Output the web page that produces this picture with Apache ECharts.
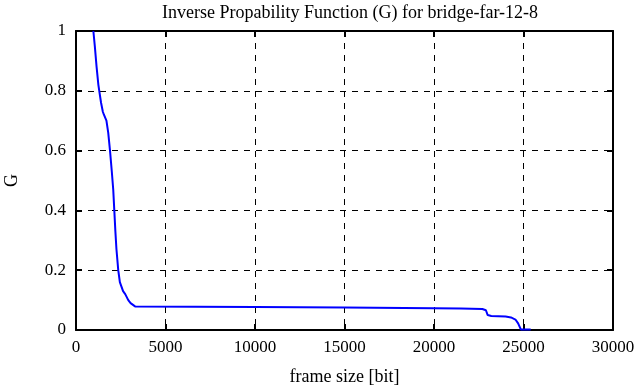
<!DOCTYPE html>
<html>
<head>
<meta charset="utf-8">
<script src="https://cdn.jsdelivr.net/npm/echarts@6/dist/echarts.min.js"></script>
<style>html,body{margin:0;padding:0;background:#fff;}#c{width:639px;height:387px;}</style>
</head>
<body>
<div id="c"></div>
<script>
const frameSizes = [970,1050,1150,1250,1300,1400,1500,1560,1700,1800,1900,2000,2080,2140,2200,2260,2360,2450,2510,2630,2750,2920,3050,3160,3300,10000,15000,20000,21500,22700,22900,23000,23200,24000,24300,24550,24700,24850,25400];
const gValues = [1.0,0.95,0.88,0.82,0.80,0.76,0.73,0.72,0.70,0.66,0.60,0.53,0.47,0.40,0.33,0.27,0.20,0.16,0.15,0.13,0.12,0.10,0.09,0.085,0.079,0.077,0.075,0.073,0.072,0.070,0.066,0.050,0.047,0.045,0.042,0.035,0.022,0.002,0.002];
const xTicks = [0,5000,10000,15000,20000,25000,30000];
const yTicks = [0,0.2,0.4,0.6,0.8,1];
const titleText = 'Inverse Propability Function (G) for bridge-far-12-8';

const font = 'Liberation Serif';
const chart = echarts.init(document.getElementById('c'));
const data = frameSizes.map((x,i)=>[x,gValues[i]]);
const axisCommon = {
  axisLine:{show:true,onZero:false,lineStyle:{color:'#000',width:2}},
  axisTick:{show:true,inside:true,length:6,lineStyle:{color:'#000',width:2}},
};
chart.setOption({
  animation:false,
  backgroundColor:'#fff',
  title:{text:titleText,left:345,textAlign:'center',top:-1,textStyle:{fontFamily:font,fontSize:18,fontWeight:'normal',color:'#000'}},
  grid:{left:76,right:26,top:31,bottom:57,containLabel:false,outerBoundsMode:'none'},
  xAxis:[{
    type:'value',min:0,max:30000,interval:5000,position:'bottom',
    name:'frame size [bit]',nameLocation:'middle',nameGap:38,
    nameTextStyle:{fontFamily:font,fontSize:18,color:'#000'},
    axisLabel:{fontFamily:font,fontSize:17,color:'#000',margin:9,formatter:v=>xTicks.includes(v)?String(v):''},
    splitLine:{show:true,lineStyle:{color:'#000',type:[6,6],width:1}},
    ...axisCommon
  },{
    type:'value',min:0,max:30000,interval:5000,position:'top',
    axisLabel:{show:false},splitLine:{show:false},...axisCommon
  }],
  yAxis:[{
    type:'value',min:0,max:1,interval:0.2,position:'left',
    name:'G',nameLocation:'middle',nameGap:55,nameRotate:90,
    nameTextStyle:{fontFamily:font,fontSize:18,color:'#000'},
    axisLabel:{fontFamily:font,fontSize:17,color:'#000',margin:10,formatter:v=>{const t=yTicks.find(y=>Math.abs(y-v)<1e-9);return t===undefined?'':String(t);}},
    splitLine:{show:true,lineStyle:{color:'#000',type:[6,6],width:1}},
    ...axisCommon
  },{
    type:'value',min:0,max:1,interval:0.2,position:'right',
    axisLabel:{show:false},splitLine:{show:false},...axisCommon
  }],
  series:[{
    type:'line',data:data,showSymbol:false,symbol:'none',
    lineStyle:{color:'#0000ff',width:2},clip:true
  }]
});
</script>
</body>
</html>
